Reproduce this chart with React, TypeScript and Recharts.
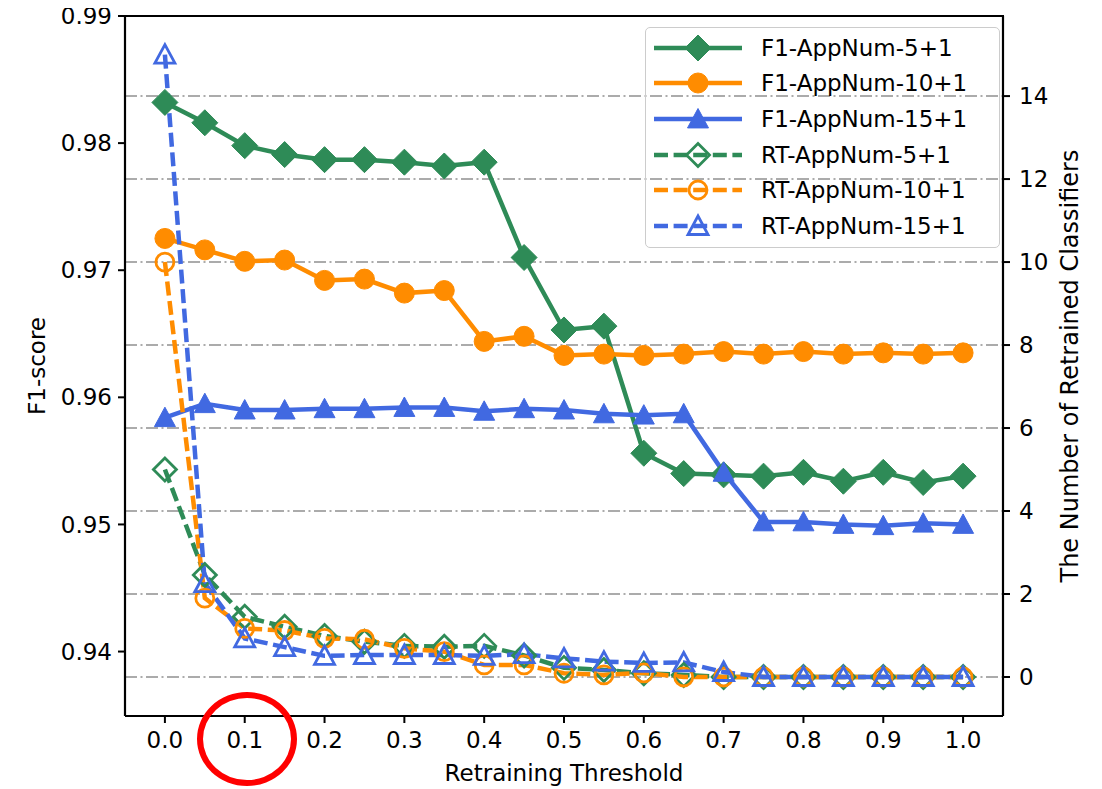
import React from 'react';
import { ComposedChart, Line, XAxis, YAxis, CartesianGrid, Legend } from 'recharts';

const thresholds = [0, 0.05, 0.1, 0.15, 0.2, 0.25, 0.3, 0.35, 0.4, 0.45, 0.5, 0.55, 0.6, 0.65, 0.7, 0.75, 0.8, 0.85, 0.9, 0.95, 1.0];

const f1App5 = [0.9832, 0.9816, 0.9798, 0.9791, 0.9787, 0.9787, 0.9785, 0.9782, 0.9785, 0.9710, 0.9653, 0.9656, 0.9556, 0.9540, 0.9539, 0.9538, 0.9541, 0.9534, 0.9541, 0.9533, 0.9538];
const f1App10 = [0.9725, 0.9716, 0.9707, 0.9708, 0.9692, 0.9693, 0.9682, 0.9684, 0.9644, 0.9648, 0.9633, 0.9634, 0.9633, 0.9634, 0.9636, 0.9634, 0.9636, 0.9634, 0.9635, 0.9634, 0.9635];
const f1App15 = [0.9584, 0.9595, 0.9590, 0.9590, 0.9591, 0.9591, 0.9592, 0.9592, 0.9589, 0.9591, 0.9590, 0.9587, 0.9586, 0.9587, 0.9541, 0.9502, 0.9502, 0.9500, 0.9499, 0.9501, 0.9500];

const rtApp5 = [5.0, 2.46, 1.45, 1.21, 0.99, 0.85, 0.75, 0.73, 0.75, 0.52, 0.22, 0.17, 0.09, 0.05, 0, 0, 0, 0, 0, 0, 0];
const rtApp10 = [10.0, 1.9, 1.17, 1.12, 0.93, 0.91, 0.69, 0.61, 0.29, 0.29, 0.09, 0.05, 0.1, 0, 0, 0, 0, 0, 0, 0, 0];
const rtApp15 = [15.0, 2.26, 0.93, 0.72, 0.51, 0.53, 0.53, 0.53, 0.51, 0.55, 0.45, 0.37, 0.34, 0.35, 0.12, 0, 0, 0, 0, 0, 0];

const xTicks = [0, 0.1, 0.2, 0.3, 0.4, 0.5, 0.6, 0.7, 0.8, 0.9, 1.0];
const leftTicks = [0.94, 0.95, 0.96, 0.97, 0.98, 0.99];
const rightTicks = [0, 2, 4, 6, 8, 10, 12, 14];

const seriesNames = ['F1-AppNum-5+1', 'F1-AppNum-10+1', 'F1-AppNum-15+1', 'RT-AppNum-5+1', 'RT-AppNum-10+1', 'RT-AppNum-15+1'];

const xLabel = 'Retraining Threshold';
const leftLabel = 'F1-score';
const rightLabel = 'The Number of Retrained Classifiers';

const data = thresholds.map((t, i) => ({
  t,
  f1_5: f1App5[i],
  f1_10: f1App10[i],
  f1_15: f1App15[i],
  rt_5: rtApp5[i],
  rt_10: rtApp10[i],
  rt_15: rtApp15[i],
}));

const GREEN = '#2e8b57';
const ORANGE = '#ff8c00';
const BLUE = '#4169e1';
const FONT = 'DejaVu Sans, Verdana, sans-serif';
const DASH = '14 5.6';

type Shape = 'diamond' | 'circle' | 'triangle';

function MarkerShape({ cx, cy, shape, color, filled }: { cx: number; cy: number; shape: Shape; color: string; filled: boolean }) {
  const fill = filled ? color : 'none';
  const sw = filled ? 1 : 2.8;
  if (shape === 'diamond') {
    const r = filled ? 13 : 11.5;
    return <path d={`M${cx},${cy - r}L${cx + r},${cy}L${cx},${cy + r}L${cx - r},${cy}Z`} fill={fill} stroke={color} strokeWidth={sw} />;
  }
  if (shape === 'circle') {
    return <circle cx={cx} cy={cy} r={filled ? 10 : 9} fill={fill} stroke={color} strokeWidth={sw} />;
  }
  const h = filled ? 10.5 : 10;
  return <path d={`M${cx},${cy - h}L${cx + h},${cy + h * 0.85}L${cx - h},${cy + h * 0.85}Z`} fill={fill} stroke={color} strokeWidth={sw} />;
}

const makeDot = (shape: Shape, color: string, filled: boolean) => (p: any) => {
  if (p.cx == null || p.cy == null) return <g key={`e-${p.index}`} />;
  return <MarkerShape key={`m-${shape}-${filled}-${p.index}`} cx={p.cx} cy={p.cy} shape={shape} color={color} filled={filled} />;
};

const legendItems: { name: string; color: string; shape: Shape; filled: boolean }[] = [
  { name: seriesNames[0], color: GREEN, shape: 'diamond', filled: true },
  { name: seriesNames[1], color: ORANGE, shape: 'circle', filled: true },
  { name: seriesNames[2], color: BLUE, shape: 'triangle', filled: true },
  { name: seriesNames[3], color: GREEN, shape: 'diamond', filled: false },
  { name: seriesNames[4], color: ORANGE, shape: 'circle', filled: false },
  { name: seriesNames[5], color: BLUE, shape: 'triangle', filled: false },
];

function LegendBox() {
  return (
    <div
      style={{
        border: '1.5px solid #cccccc',
        borderRadius: 5,
        padding: '2px 0 3px 0',
        width: 355,
        boxSizing: 'border-box',
        fontFamily: FONT,
        fontSize: 23,
        color: '#000',
      }}
    >
      {legendItems.map((it) => (
        <div key={it.name} style={{ display: 'flex', alignItems: 'center', height: 35.6 }}>
          <svg width={88} height={30} style={{ marginLeft: 8, marginRight: 19, overflow: 'visible' }}>
            <line x1={0} y1={15} x2={88} y2={15} stroke={it.color} strokeWidth={4.5} strokeDasharray={it.filled ? undefined : DASH} />
            <MarkerShape cx={44} cy={15} shape={it.shape} color={it.color} filled={it.filled} />
          </svg>
          <span style={{ whiteSpace: 'nowrap', lineHeight: '30px' }}>{it.name}</span>
        </div>
      ))}
    </div>
  );
}

const XTitle = (props: any) => {
  const vb = props.viewBox || { x: 117, y: 716, width: 878, height: 73 };
  return (
    <text x={vb.x + vb.width / 2} y={vb.y + 57} textAnchor="middle" dominantBaseline="central" fontFamily={FONT} fontSize={23} fill="#000">
      {xLabel}
    </text>
  );
};

const LeftTitle = (props: any) => {
  const vb = props.viewBox || { x: 0, y: 16, width: 117, height: 700 };
  const cx = vb.x + 29;
  const cy = vb.y + vb.height / 2;
  return (
    <text x={cx} y={cy} transform={`rotate(-90 ${cx} ${cy})`} textAnchor="middle" dominantBaseline="central" fontFamily={FONT} fontSize={23} fill="#000">
      {leftLabel}
    </text>
  );
};

const RightTitle = (props: any) => {
  const vb = props.viewBox || { x: 995, y: 16, width: 99, height: 700 };
  const cx = vb.x + 67;
  const cy = vb.y + vb.height / 2;
  return (
    <text x={cx} y={cy} transform={`rotate(-90 ${cx} ${cy})`} textAnchor="middle" dominantBaseline="central" fontFamily={FONT} fontSize={24} fill="#000">
      {rightLabel}
    </text>
  );
};

const tickStyle = { fill: '#000', fontSize: 23, fontFamily: FONT };
const axisLineStyle = { stroke: '#000', strokeWidth: 2.2 };
const tickLineStyle = { stroke: '#000', strokeWidth: 2 };

export default function App() {
  return (
    <div style={{ position: 'relative', width: 1094, height: 789, marginTop: -8 }}>
      <ComposedChart width={1094} height={789} data={data} margin={{ top: 16, right: 0, bottom: 0, left: 0 }}>
        <CartesianGrid yAxisId="right" vertical={false} stroke="#ababab" strokeWidth={2} strokeDasharray="12 3.5 2 3.5" />
        <XAxis
          dataKey="t"
          type="number"
          domain={[-0.05, 1.05]}
          allowDataOverflow
          ticks={xTicks}
          tickFormatter={(v: number) => v.toFixed(1)}
          height={73}
          axisLine={axisLineStyle}
          tickLine={tickLineStyle}
          tickSize={7}
          tickMargin={9}
          tick={tickStyle}
          interval={0}
          label={{ content: XTitle }}
        />
        <YAxis
          yAxisId="left"
          type="number"
          domain={[0.93493, 0.99]}
          allowDataOverflow
          ticks={leftTicks}
          tickFormatter={(v: number) => v.toFixed(2)}
          width={117}
          axisLine={axisLineStyle}
          tickLine={tickLineStyle}
          tickSize={7}
          tickMargin={6}
          tick={tickStyle}
          interval={0}
          label={{ content: LeftTitle }}
        />
        <YAxis
          yAxisId="right"
          orientation="right"
          type="number"
          domain={[-0.94, 15.93]}
          allowDataOverflow
          ticks={rightTicks}
          width={99}
          axisLine={axisLineStyle}
          tickLine={tickLineStyle}
          tickSize={7}
          tickMargin={9}
          tick={tickStyle}
          interval={0}
          label={{ content: RightTitle }}
        />
        <Line yAxisId="left" dataKey="f1_5" name={seriesNames[0]} stroke={GREEN} strokeWidth={4.5} isAnimationActive={false} dot={makeDot('diamond', GREEN, true)} activeDot={false} />
        <Line yAxisId="left" dataKey="f1_10" name={seriesNames[1]} stroke={ORANGE} strokeWidth={4.5} isAnimationActive={false} dot={makeDot('circle', ORANGE, true)} activeDot={false} />
        <Line yAxisId="left" dataKey="f1_15" name={seriesNames[2]} stroke={BLUE} strokeWidth={4.5} isAnimationActive={false} dot={makeDot('triangle', BLUE, true)} activeDot={false} />
        <Line yAxisId="right" dataKey="rt_5" name={seriesNames[3]} stroke={GREEN} strokeWidth={4.5} strokeDasharray={DASH} isAnimationActive={false} dot={makeDot('diamond', GREEN, false)} activeDot={false} />
        <Line yAxisId="right" dataKey="rt_10" name={seriesNames[4]} stroke={ORANGE} strokeWidth={4.5} strokeDasharray={DASH} isAnimationActive={false} dot={makeDot('circle', ORANGE, false)} activeDot={false} />
        <Line yAxisId="right" dataKey="rt_15" name={seriesNames[5]} stroke={BLUE} strokeWidth={4.5} strokeDasharray={DASH} isAnimationActive={false} dot={makeDot('triangle', BLUE, false)} activeDot={false} />
        <Legend
          layout="vertical"
          align="center"
          verticalAlign="middle"
          width={355}
          wrapperStyle={{ position: 'absolute', left: 637, top: 27, width: 355, height: 221 }}
          content={() => <LegendBox />}
        />
      </ComposedChart>
      <div
        style={{
          position: 'absolute',
          left: 116,
          top: 15,
          width: 880,
          height: 2.2,
          background: '#000',
          pointerEvents: 'none',
        }}
      />
      <div
        style={{
          position: 'absolute',
          left: 189,
          top: 692,
          width: 100,
          height: 94,
          border: '6px solid #ff0000',
          borderRadius: '50%',
          boxSizing: 'border-box',
          pointerEvents: 'none',
        }}
      />
    </div>
  );
}
